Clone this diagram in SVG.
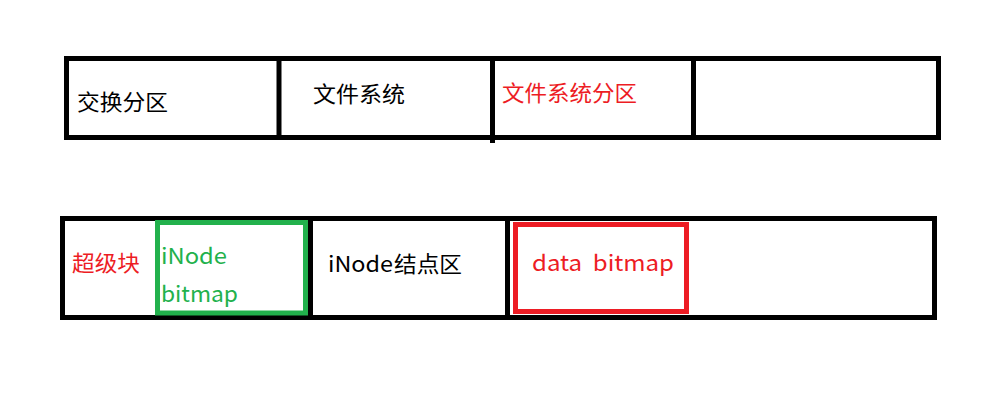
<svg xmlns="http://www.w3.org/2000/svg" width="992" height="418" viewBox="0 0 992 418">
<style>
.box{fill:none;stroke:#000;stroke-width:5}
.div{stroke:#000;stroke-width:5}
.g{fill:none;stroke:#22B14C;stroke-width:5}
.r{fill:none;stroke:#ED1C24;stroke-width:5}
text{font-family:"Microsoft YaHei","Noto Sans CJK SC","Noto Sans",sans-serif;font-size:22px}
.tb{fill:#000}
.tr{fill:#ED1C24}
.tg{fill:#22B14C}
</style>
<rect width="992" height="418" fill="#fff"/>
<g id="top-row">
  <rect class="box" x="66.5" y="58.5" width="872" height="79"/>
  <line class="div" x1="279" y1="58" x2="279" y2="138"/>
  <line class="div" x1="492.5" y1="58" x2="492.5" y2="143"/>
  <line class="div" x1="693.5" y1="58" x2="693.5" y2="138"/>
</g>
<g id="swap">
  <text class="tb" x="77" y="110" textLength="91" lengthAdjust="spacingAndGlyphs">交换分区</text>
</g>
<g id="fs">
  <text class="tb" x="313" y="101.5" textLength="92" lengthAdjust="spacingAndGlyphs">文件系统</text>
</g>
<g id="fs-part">
  <text class="tr" x="502" y="100.5" textLength="135" lengthAdjust="spacingAndGlyphs">文件系统分区</text>
</g>
<g id="empty-top"></g>
<g id="bottom-row">
  <rect class="box" x="62.5" y="218.5" width="872" height="99"/>
  <line class="div" x1="310.5" y1="218" x2="310.5" y2="318"/>
  <line class="div" x1="507.5" y1="218" x2="507.5" y2="318"/>
</g>
<g id="superblock">
  <text class="tr" x="72" y="270.5" textLength="68" lengthAdjust="spacingAndGlyphs">超级块</text>
</g>
<g id="inode-bitmap">
  <rect class="g" x="157.5" y="222.5" width="148" height="90.5"/>
  <text class="tg" x="161" y="264" textLength="66" lengthAdjust="spacingAndGlyphs">iNode</text>
  <text class="tg" x="161" y="302" textLength="77" lengthAdjust="spacingAndGlyphs">bitmap</text>
</g>
<g id="inode-area">
  <text class="tb" x="328" y="272" textLength="65" lengthAdjust="spacingAndGlyphs">iNode</text>
  <text class="tb" x="394" y="271.5" textLength="68" lengthAdjust="spacingAndGlyphs">结点区</text>
</g>
<g id="data-bitmap">
  <rect class="r" x="515.5" y="224.5" width="171" height="87"/>
  <text class="tr" x="532" y="271" textLength="142" lengthAdjust="spacingAndGlyphs" xml:space="preserve">data  bitmap</text>
</g>
<g id="connectors"></g>
</svg>
